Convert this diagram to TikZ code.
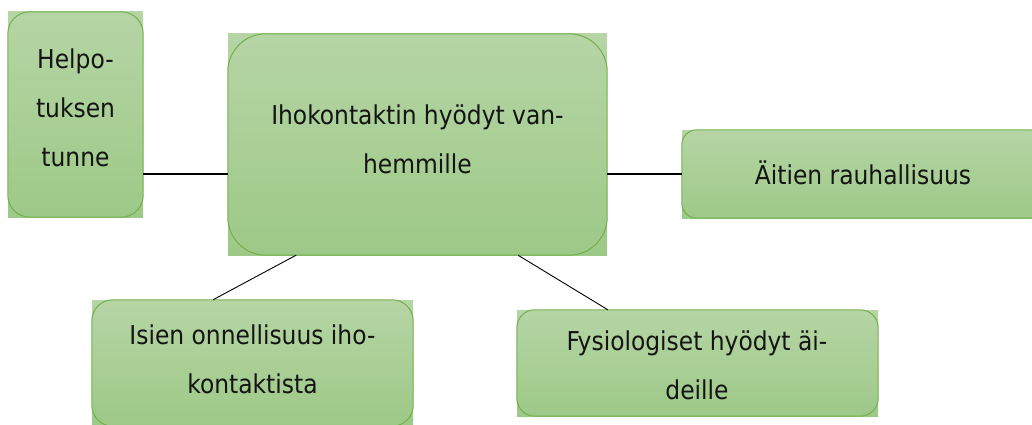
\documentclass[tikz,border=0pt]{standalone}
\usepackage{fontspec}
\usetikzlibrary{calc}
\newfontfamily\boxfont{DejaVu Sans Condensed}
\definecolor{gtop}{HTML}{B6D5A5}
\definecolor{gbot}{HTML}{9DC987}
\definecolor{rimgreen}{HTML}{72AF4C}
\tikzset{
  box/.style={rectangle, inner sep=0pt, top color=gtop, bottom color=gbot, draw=none},
  rim/.style={draw=rimgreen, line width=1pt},
  label/.style={inner sep=0pt, align=center, text=black!92,
    font={\boxfont\fontsize{26}{49}\selectfont}},
  link/.style={draw=black, line width=1.4pt},
  slant/.style={draw=black, line width=0.9pt},
}
\begin{document}
\begin{tikzpicture}[x=1pt,y=-1pt]
\useasboundingbox (0,0) rectangle (1032,425);
\clip (0,0) rectangle (1032,425);

% boxes: rectangular gradient fill with a rounded outline
\node[box, minimum width=135pt, minimum height=205pt] (b1) at (75.5,114.5) {};
\node[box, minimum width=379pt, minimum height=221pt] (b2) at (417.5,144.5) {};
\node[box, minimum width=362pt, minimum height=88pt]  (b3) at (863,174) {};
\node[box, minimum width=321pt, minimum height=126pt] (b4) at (252.5,363) {};
\node[box, minimum width=361pt, minimum height=106pt] (b5) at (697.5,363) {};

\draw[rim, rounded corners=22pt] (b1.north west) rectangle (b1.south east);
\draw[rim, rounded corners=38pt] (b2.north west) rectangle (b2.south east);
\draw[rim, rounded corners=15pt] (b3.north west) rectangle (b3.south east);
\draw[rim, rounded corners=21pt] (b4.north west) rectangle (b4.south east);
\draw[rim, rounded corners=18pt] (b5.north west) rectangle (b5.south east);

% texts
\node[label] (t1) at (75.5,108) {Helpo-\\tuksen\\tunne};
\node[label] (t2) at (417.5,139) {Ihokontaktin hyödyt van-\\hemmille};
\node[label] (t3) at (863,172.5) {Äitien rauhallisuus};
\node[label] (t4) at (252.5,359) {Isien onnellisuus iho-\\kontaktista};
\node[label] (t5) at (697,365) {Fysiologiset hyödyt äi-\\deille};

% connectors
\draw[link] (b3.west -| b1.east) -- (b3.west -| b2.west);
\draw[link] (b3.west -| b2.east) -- (b3.west);
\draw[slant] ($(b2.south west)!0.18!(b2.south east)$) -- ($(b4.north west)!0.377!(b4.north east)$);
\draw[slant] ($(b2.south west)!0.765!(b2.south east)$) -- ($(b5.north west)!0.252!(b5.north east)$);
\end{tikzpicture}
\end{document}
